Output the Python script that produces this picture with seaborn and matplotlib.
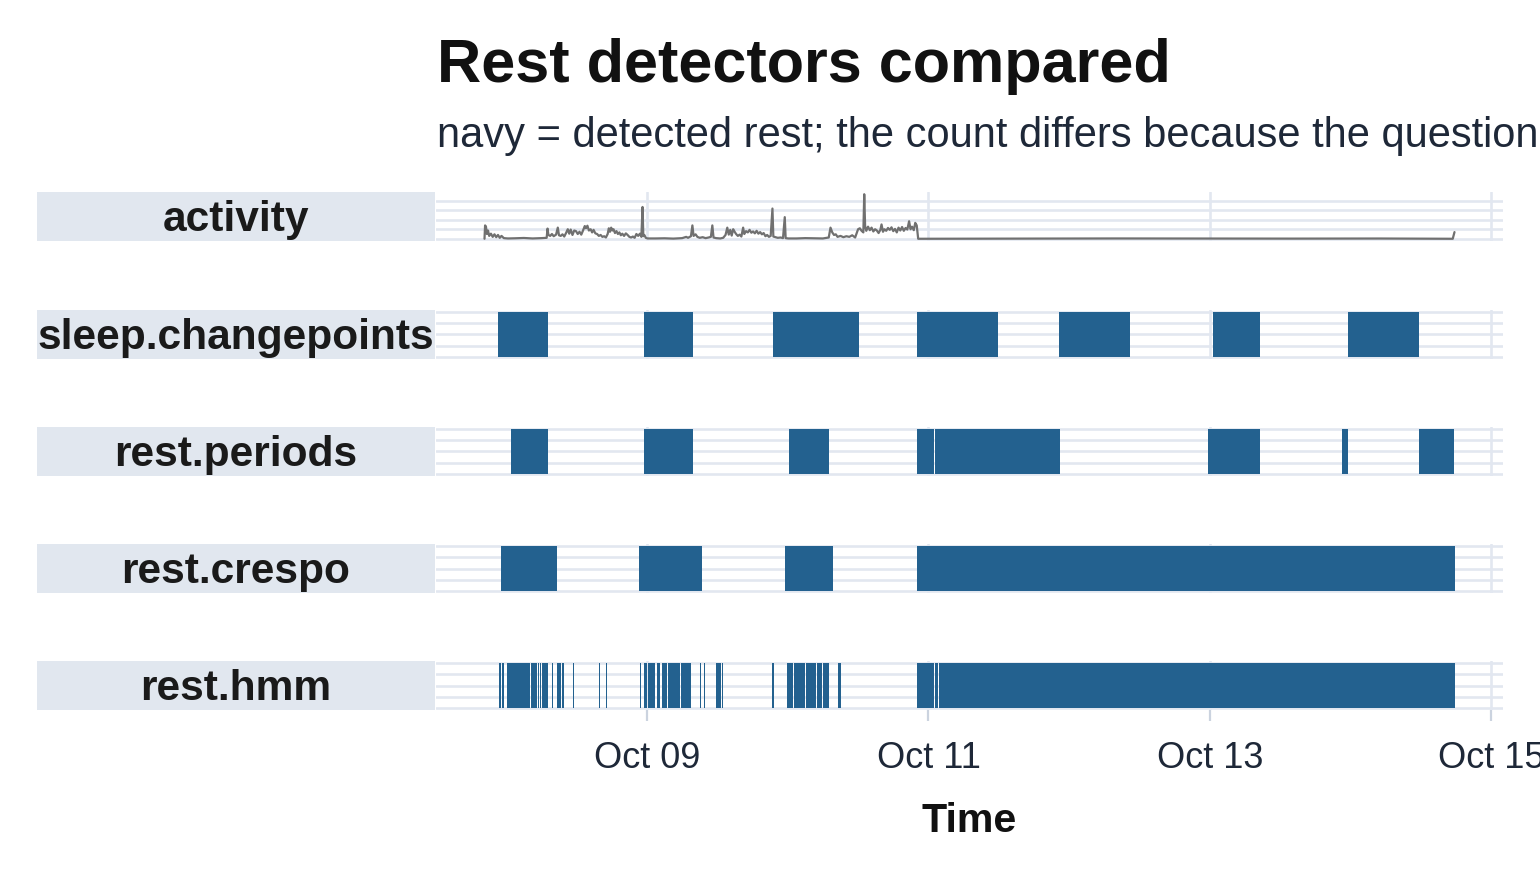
import numpy as np
import pandas as pd
import matplotlib
matplotlib.use("Agg")
import matplotlib.pyplot as plt
import matplotlib.dates as mdates
from matplotlib.patches import Rectangle
import seaborn as sns

# ---- data ----
rows = ["activity", "sleep.changepoints", "rest.periods", "rest.crespo", "rest.hmm"]

act_start = "2023-10-09 00:00"
# hours relative to Oct 09 00:00, activity counts
act_hours = [-27.70, -27.60, -27.45, -27.30, -27.10, -26.90, -26.60, -26.30, -26.00, -25.70,
             -25.40, -25.10, -24.80, -24.40, -23.70, -22.50, -21.00, -19.50, -18.00, -17.10,
             -16.95, -16.80, -16.50, -16.20, -15.90, -15.50, -15.20, -15.00, -14.70, -14.40,
             -14.10, -13.80, -13.50, -13.25, -13.00, -12.70, -12.40, -12.10, -11.80, -11.50,
             -11.20, -10.90, -10.60, -10.40, -10.15, -9.90, -9.60, -9.35, -9.10, -8.80,
             -8.50, -8.20, -7.90, -7.60, -7.30, -7.00, -6.70, -6.50, -6.30, -6.10,
             -5.90, -5.70, -5.45, -5.20, -4.95, -4.70, -4.45, -4.20, -3.90, -3.60,
             -3.30, -3.00, -2.70, -2.40, -2.10, -1.80, -1.50, -1.20, -0.95, -0.75,
             -0.62, -0.45, -0.20, 0.10, 1.50, 3.00, 4.50, 6.00, 6.70, 7.00,
             7.50, 7.75, 7.95, 8.30, 8.60, 9.00, 9.50, 10.00, 10.50, 10.90,
             11.15, 11.35, 11.80, 12.50, 13.00, 13.40, 13.70, 13.95, 14.20, 14.45,
             14.70, 14.95, 15.20, 15.50, 15.80, 16.10, 16.40, 16.60, 16.90, 17.20,
             17.50, 17.80, 18.10, 18.40, 18.70, 19.00, 19.30, 19.60, 19.90, 20.20,
             20.50, 20.80, 21.10, 21.40, 21.55, 21.90, 22.30, 22.80, 23.20, 23.50,
             23.65, 24.10, 25.50, 27.00, 28.50, 30.00, 31.00, 31.30, 31.60, 31.90,
             32.20, 32.50, 33.00, 33.50, 34.00, 34.50, 35.00, 35.50, 36.00, 36.30,
             36.60, 36.90, 37.05, 37.20, 37.40, 37.70, 38.00, 38.30, 38.60, 38.90,
             39.20, 39.50, 39.80, 40.00, 40.25, 40.50, 40.80, 41.10, 41.40, 41.70,
             42.00, 42.30, 42.60, 42.90, 43.20, 43.50, 43.80, 44.10, 44.40, 44.70,
             44.95, 45.20, 45.50, 45.75, 46.00, 46.25, 60.00, 80.00, 110.00, 125.00,
             137.40, 137.70]
act_counts = [0, 420, 380, 150, 260, 90, 160, 60, 140, 50,
              120, 30, 90, 20, 10, 15, 25, 10, 20, 30,
              320, 120, 90, 150, 80, 130, 350, 110, 90, 140,
              70, 180, 300, 160, 290, 120, 260, 240, 150, 220,
              130, 260, 400, 330, 410, 260, 300, 200, 280, 170,
              150, 90, 120, 60, 80, 40, 150, 330, 220, 350,
              260, 300, 180, 240, 150, 200, 110, 160, 90, 170,
              120, 60, 40, 70, 30, 150, 90, 160, 60, 1000,
              80, 120, 30, 10, 10, 15, 5, 20, 60, 30,
              80, 420, 90, 140, 60, 30, 50, 20, 40, 60,
              420, 40, 20, 10, 30, 120, 350, 130, 280, 100,
              300, 220, 150, 90, 130, 70, 350, 150, 240, 200,
              280, 190, 230, 170, 250, 160, 210, 140, 180, 80,
              120, 60, 90, 950, 70, 50, 30, 40, 20, 680,
              20, 10, 10, 20, 15, 10, 40, 350, 200, 120,
              140, 60, 90, 50, 80, 60, 110, 40, 300, 330,
              250, 200, 1400, 400, 250, 380, 270, 350, 230, 300,
              260, 180, 280, 450, 220, 300, 250, 340, 280, 360,
              240, 310, 200, 350, 260, 370, 250, 340, 290, 550,
              300, 380, 270, 500, 420, 0, 5, 10, 5, 8,
              0, 210]

sleep_changepoints = [("2023-10-07 22:38", "2023-10-08 07:09"),
                      ("2023-10-08 23:30", "2023-10-09 07:50"),
                      ("2023-10-09 21:27", "2023-10-10 12:05"),
                      ("2023-10-10 21:58", "2023-10-11 11:55"),
                      ("2023-10-11 22:18", "2023-10-12 10:24"),
                      ("2023-10-13 00:30", "2023-10-13 08:31"),
                      ("2023-10-13 23:30", "2023-10-14 11:34")]

rest_periods = [("2023-10-08 00:51", "2023-10-08 07:09"),
                ("2023-10-08 23:29", "2023-10-09 07:50"),
                ("2023-10-10 00:10", "2023-10-10 06:59"),
                ("2023-10-10 21:58", "2023-10-11 01:01"),
                ("2023-10-11 01:11", "2023-10-11 22:23"),
                ("2023-10-12 23:40", "2023-10-13 08:31"),
                ("2023-10-13 22:31", "2023-10-13 23:35"),
                ("2023-10-14 11:40", "2023-10-14 17:38")]

rest_crespo = [("2023-10-07 23:09", "2023-10-08 08:41"),
               ("2023-10-08 22:38", "2023-10-09 09:22"),
               ("2023-10-09 23:29", "2023-10-10 07:40"),
               ("2023-10-10 21:58", "2023-10-14 17:42")]

rest_hmm = [("2023-10-07 22:49", "2023-10-07 23:09"), ("2023-10-07 23:19", "2023-10-07 23:40"),
            ("2023-10-08 00:10", "2023-10-08 04:05"), ("2023-10-08 04:15", "2023-10-08 05:17"),
            ("2023-10-08 05:27", "2023-10-08 05:37"), ("2023-10-08 05:47", "2023-10-08 05:57"),
            ("2023-10-08 06:08", "2023-10-08 07:09"), ("2023-10-08 07:50", "2023-10-08 08:00"),
            ("2023-10-08 08:41", "2023-10-08 09:22"), ("2023-10-08 09:32", "2023-10-08 09:52"),
            ("2023-10-08 11:24", "2023-10-08 11:34"), ("2023-10-08 15:50", "2023-10-08 16:00"),
            ("2023-10-08 17:01", "2023-10-08 17:11"), ("2023-10-08 22:49", "2023-10-08 22:59"),
            ("2023-10-08 23:29", "2023-10-09 00:00"), ("2023-10-09 00:10", "2023-10-09 01:22"),
            ("2023-10-09 01:42", "2023-10-09 02:13"), ("2023-10-09 02:33", "2023-10-09 03:24"),
            ("2023-10-09 03:34", "2023-10-09 05:37"), ("2023-10-09 05:47", "2023-10-09 07:29"),
            ("2023-10-09 09:01", "2023-10-09 09:11"), ("2023-10-09 09:42", "2023-10-09 09:52"),
            ("2023-10-09 11:45", "2023-10-09 12:36"), ("2023-10-09 12:46", "2023-10-09 12:56"),
            ("2023-10-09 21:17", "2023-10-09 21:37"), ("2023-10-09 23:50", "2023-10-10 00:51"),
            ("2023-10-10 01:01", "2023-10-10 02:54"), ("2023-10-10 03:04", "2023-10-10 04:46"),
            ("2023-10-10 04:56", "2023-10-10 05:47"), ("2023-10-10 05:57", "2023-10-10 06:59"),
            ("2023-10-10 08:31", "2023-10-10 09:01"), ("2023-10-10 21:58", "2023-10-11 01:01"),
            ("2023-10-11 01:11", "2023-10-11 01:42"), ("2023-10-11 01:52", "2023-10-14 17:42")]

title = "Rest detectors compared"
subtitle = "navy = detected rest; the count differs because the question each detector asks differs"

# ---- style ----
sns.set_theme(style="white")
plt.rcParams['font.family'] = ['Liberation Sans', 'DejaVu Sans']

navy = "#23618F"
grid_c = "#E2E7F0"
strip_c = "#E1E7EF"
text_c = "#1E2838"

act = pd.DataFrame({
    "time": pd.Timestamp(act_start) + pd.to_timedelta(act_hours, unit="h"),
    "count": act_counts,
})
intervals = {
    "sleep.changepoints": sleep_changepoints,
    "rest.periods": rest_periods,
    "rest.crespo": rest_crespo,
    "rest.hmm": rest_hmm,
}

# shared x range with ggplot-like 5% expansion
all_t = list(act["time"]) + [pd.Timestamp(t) for v in intervals.values() for iv in v for t in iv]
lo, hi = mdates.date2num(min(all_t)), mdates.date2num(max(all_t))
pad = (hi - lo) * 0.05

W, H = 1540, 880
fig = plt.figure(figsize=(W / 100, H / 100), dpi=100)

panel_left, panel_right = 436, 1503
panel_tops = [192, 310, 427, 544, 661]
panel_h = 49

axes = []
for name, top in zip(rows, panel_tops):
    ax = fig.add_axes([panel_left / W, 1 - (top + panel_h) / H,
                       (panel_right - panel_left) / W, panel_h / H])
    axes.append(ax)

    # strip on the left
    fig.patches.append(Rectangle((37 / W, 1 - (top + panel_h) / H), (435 - 37) / W, panel_h / H,
                                 transform=fig.transFigure, facecolor=strip_c, edgecolor="none",
                                 zorder=0))
    fig.text(236 / W, 1 - (top + panel_h / 2 + 3) / H, name, ha="center", va="center",
             fontsize=30.6, fontweight="bold", color="#1A1A1A")

    if name == "activity":
        sns.lineplot(data=act, x="time", y="count", ax=ax, color="#707070",
                     linewidth=1.6, estimator=None)
        ymax = max(act_counts)
        ax.set_ylim(-0.05 * ymax, 1.05 * ymax)
        ax.set_yticks([0, 300, 600, 900, 1200])
    else:
        bars = [(mdates.date2num(pd.Timestamp(s)),
                 mdates.date2num(pd.Timestamp(e)) - mdates.date2num(pd.Timestamp(s)))
                for s, e in intervals[name]]
        ax.broken_barh(bars, (0, 1), facecolors=navy, edgecolor="none", zorder=3)
        ax.set_ylim(-0.05, 1.05)
        ax.set_yticks([0, 0.25, 0.5, 0.75, 1.0])

    ax.set_xlim(lo - pad, hi + pad)
    ax.xaxis.set_major_locator(mdates.DayLocator(bymonthday=range(1, 32, 2)))
    ax.xaxis.set_major_formatter(mdates.DateFormatter("%b %d"))
    ax.grid(True, color=grid_c, linewidth=1.9)
    ax.set_axisbelow(True)
    for s in ax.spines.values():
        s.set_visible(False)
    ax.set_xlabel("")
    ax.set_ylabel("")
    ax.tick_params(axis="y", left=False, labelleft=False)
    ax.tick_params(axis="x", bottom=False, labelbottom=False)
    ax.set_facecolor("none")

bottom = axes[-1]
bottom.tick_params(axis="x", bottom=True, labelbottom=True, length=8, width=1.6,
                   color="#CBD3DF", labelsize=26, labelcolor=text_c, pad=14)
bottom.set_xlabel("Time", fontsize=29.6, fontweight="bold", color="#111111", labelpad=19)

fig.text(437 / W, 1 - 82 / H, title, ha="left", va="baseline",
         fontsize=44, fontweight="bold", color="#111111")
fig.text(437 / W, 1 - 147 / H, subtitle, ha="left", va="baseline",
         fontsize=30, color=text_c)

fig.savefig("out.png", dpi=100)
